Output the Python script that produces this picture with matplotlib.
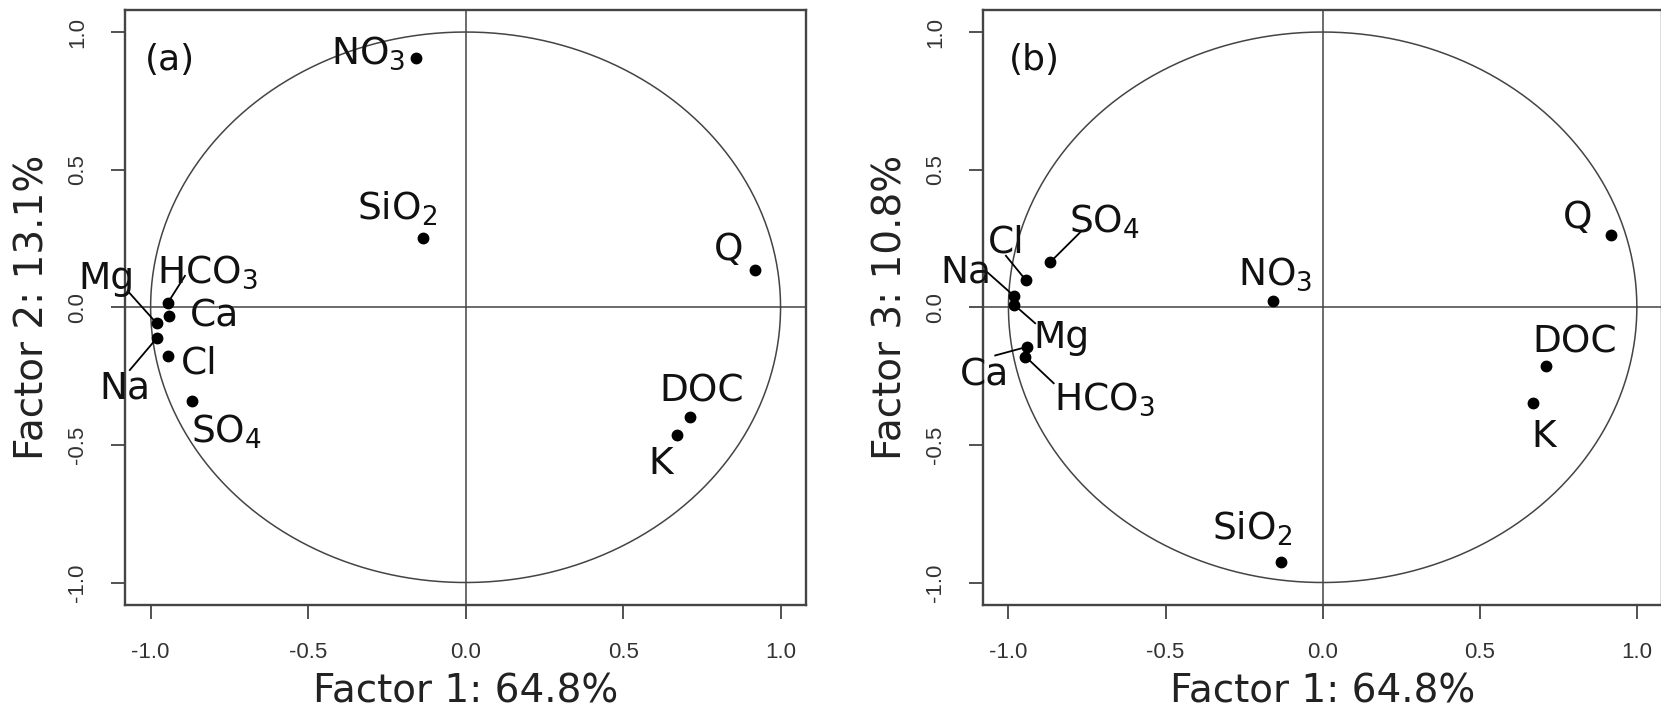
import matplotlib
matplotlib.use("Agg")
import matplotlib.pyplot as plt
import numpy as np

plt.rcParams['font.family'] = ['DejaVu Sans']
plt.rcParams['mathtext.default'] = 'regular'
plt.rcParams['mathtext.fontset'] = 'dejavusans'

# variable names and loadings
variables = ['NO$_3$', 'SiO$_2$', 'Q', 'DOC', 'K', 'HCO$_3$', 'Ca', 'Mg', 'Na', 'Cl', 'SO$_4$']
factor1 = [-0.158, -0.134, 0.918, 0.711, 0.670, -0.946, -0.942, -0.981, -0.981, -0.945, -0.867]
factor2 = [0.906, 0.251, 0.137, -0.398, -0.464, 0.015, -0.032, -0.058, -0.113, -0.178, -0.340]
factor3 = [0.023, -0.924, 0.263, -0.215, -0.349, -0.179, -0.144, 0.008, 0.040, 0.099, 0.164]

x_label = 'Factor 1: 64.8%'
y_labels = ['Factor 2: 13.1%', 'Factor 3: 10.8%']
panel_tags = ['(a)', '(b)']
ticks = [-1.0, -0.5, 0.0, 0.5, 1.0]

# label placement (centre x, cap-centre y) and leader line start, per panel
label_pos = [
    {'NO$_3$': (-0.309, 0.934), 'SiO$_2$': (-0.219, 0.369), 'Q': (0.834, 0.223),
     'DOC': (0.749, -0.294), 'K': (0.620, -0.557), 'HCO$_3$': (-0.820, 0.140),
     'Ca': (-0.798, -0.021), 'Mg': (-1.139, 0.116), 'Na': (-1.082, -0.281),
     'Cl': (-0.847, -0.190), 'SO$_4$': (-0.758, -0.443)},
    {'NO$_3$': (-0.152, 0.132), 'SiO$_2$': (-0.226, -0.793), 'Q': (0.813, 0.339),
     'DOC': (0.803, -0.116), 'K': (0.702, -0.458), 'HCO$_3$': (-0.694, -0.322),
     'Ca': (-1.075, -0.235), 'Mg': (-0.830, -0.099), 'Na': (-1.136, 0.140),
     'Cl': (-1.008, 0.248), 'SO$_4$': (-0.695, 0.322)},
]
leaders = [
    {'HCO$_3$': (-0.891, 0.114), 'Mg': (-1.071, 0.057), 'Na': (-1.066, -0.228)},
    {'SO$_4$': (-0.771, 0.273), 'Cl': (-1.008, 0.187), 'Na': (-1.067, 0.127),
     'Mg': (-0.915, -0.058), 'Ca': (-1.042, -0.175), 'HCO$_3$': (-0.856, -0.276)},
]
tag_pos = [(-0.9375, 0.898), (-0.918, 0.898)]

fig = plt.figure(figsize=(16.61, 7.15), dpi=100)
axes = [fig.add_axes([0.0755, 0.1545, 0.4096, 0.8315]),
        fig.add_axes([0.5920, 0.1545, 0.4086, 0.8315])]

theta = np.linspace(0, 2 * np.pi, 400)
spine_col = '#444444'
cap_half = 0.05

for i, ax in enumerate(axes):
    ys = factor2 if i == 0 else factor3
    ax.set_xlim(-1.08, 1.08)
    ax.set_ylim(-1.08, 1.08)

    ax.plot(np.cos(theta), np.sin(theta), color='#444444', lw=1.1)
    ax.axhline(0, color='#444444', lw=1.1)
    ax.axvline(0, color='#444444', lw=1.1)

    for name, (lx, ly) in leaders[i].items():
        k = variables.index(name)
        ax.plot([lx, factor1[k]], [ly, ys[k]], color='black', lw=1.3)

    ax.plot(factor1, ys, 'o', color='black', ms=7.5, zorder=4)

    for name in variables:
        lx, ly = label_pos[i][name]
        ax.text(lx, ly - cap_half, name, fontsize=27, ha='center', va='baseline',
                color='#111111', zorder=5)

    ax.text(tag_pos[i][0], tag_pos[i][1], panel_tags[i], fontsize=26,
            ha='center', va='center', color='#111111')

    ax.set_xticks(ticks)
    ax.set_yticks(ticks)
    ax.set_xticklabels(['%.1f' % t for t in ticks])
    ax.set_yticklabels(['%.1f' % t for t in ticks], rotation=90, va='center')
    for lab in ax.get_xticklabels() + ax.get_yticklabels():
        lab.set_family('Liberation Sans')
        lab.set_fontsize(16)
        lab.set_color('#333333')
    ax.tick_params(length=10, width=1.3, color=spine_col, pad=17)
    for sp in ax.spines.values():
        sp.set_color(spine_col)
        sp.set_linewidth(1.7)

    ax.set_xlabel(x_label, fontsize=28, labelpad=7, color='#222222')
    ax.set_ylabel(y_labels[i], fontsize=28, labelpad=11, color='#222222')

fig.savefig('out.png', dpi=100)
